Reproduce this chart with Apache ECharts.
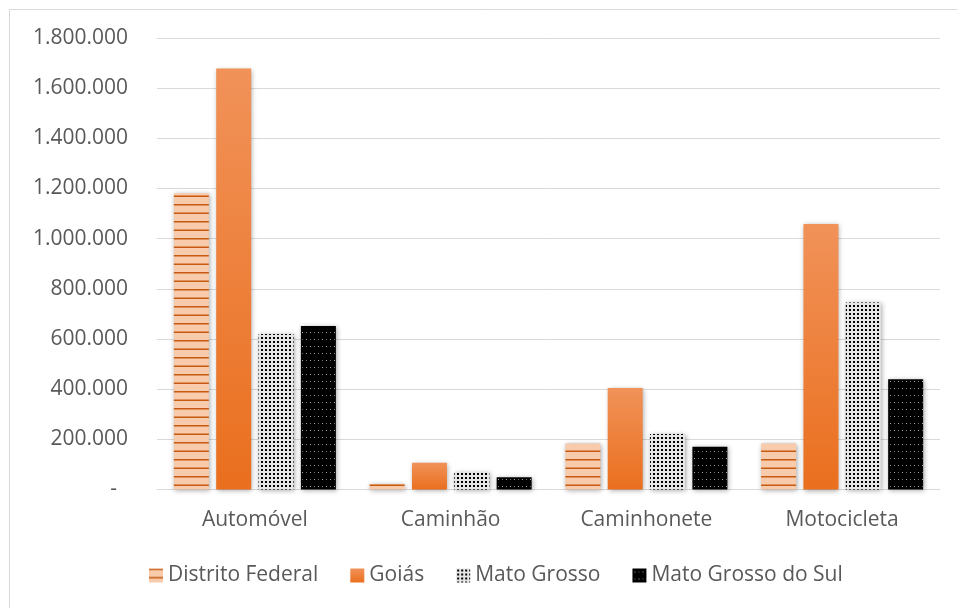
<!DOCTYPE html>
<html>
<head>
<meta charset="utf-8">
<script src="https://cdn.jsdelivr.net/npm/echarts@6/dist/echarts.min.js"></script>
<style>html,body{margin:0;padding:0;background:#fff}#c{width:957px;height:608px}</style>
</head>
<body>
<div id="c"></div>
<script>
const categories = ['Automóvel', 'Caminhão', 'Caminhonete', 'Motocicleta'];
const seriesNames = ['Distrito Federal', 'Goiás', 'Mato Grosso', 'Mato Grosso do Sul'];
const distritoFederal = [1181000, 22000, 182000, 182000];
const goias = [1678000, 107000, 405000, 1058000];
const matoGrosso = [620000, 69000, 221000, 746000];
const matoGrossoDoSul = [652000, 49000, 170000, 440000];
const yTicks = [0, 200000, 400000, 600000, 800000, 1000000, 1200000, 1400000, 1600000, 1800000];

function mk(w, h, draw) {
  const c = document.createElement('canvas');
  c.width = w; c.height = h;
  draw(c.getContext('2d'));
  return c;
}
const dfPat = mk(4, 17, g => {
  g.fillStyle = '#f8cbad'; g.fillRect(0, 0, 4, 17);
  g.fillStyle = '#c55a11'; g.fillRect(0, 0, 4, 1.5); g.fillRect(0, 8.5, 4, 1.5);
});
const mgPat = mk(4, 4, g => {
  g.fillStyle = '#e6e6e6'; g.fillRect(0, 0, 4, 4);
  g.fillStyle = '#000'; g.fillRect(1, 1, 2, 2);
});
const msPat = mk(8, 14, g => {
  g.fillStyle = '#000'; g.fillRect(0, 0, 8, 14);
  g.fillStyle = '#b0b0b0'; g.fillRect(2, 3, 1, 1); g.fillRect(6, 10, 1, 1);
  g.fillStyle = '#707070'; g.fillRect(6, 3, 1, 1); g.fillRect(2, 10, 1, 1);
});

const FONT = 'Open Sans';
const TXT = '#595959';
const shadow = { shadowBlur: 5, shadowColor: 'rgba(0,0,0,0.35)', shadowOffsetX: 1, shadowOffsetY: 1 };
const colors = [
  { image: dfPat, repeat: 'repeat' },
  { type: 'linear', x: 0, y: 0, x2: 0, y2: 1, colorStops: [{ offset: 0, color: '#f19259' }, { offset: 1, color: '#ea6f1e' }] },
  { image: mgPat, repeat: 'repeat' },
  { image: msPat, repeat: 'repeat' }
];
const data = [distritoFederal, goias, matoGrosso, matoGrossoDoSul];

function fmt(v) {
  if (v === 0) return '-  ';
  return String(v).replace(/\B(?=(\d{3})+(?!\d))/g, '.');
}

const chart = echarts.init(document.getElementById('c'), null, { renderer: 'canvas' });
chart.setOption({
  animation: false,
  backgroundColor: '#fff',
  graphic: [{ type: 'rect', shape: { x: 9.5, y: 9.5, width: 1200, height: 1200 }, style: { fill: 'none', stroke: '#d9d9d9', lineWidth: 1 }, silent: true }],
  grid: { left: 157, right: 17, top: 38, bottom: 118.5, containLabel: false },
  legend: {
    left: 144, top: 560, itemWidth: 14, itemHeight: 14, itemGap: 32,
    icon: 'rect',
    textStyle: { color: TXT, fontFamily: FONT, fontSize: 21, padding: [0, 0, 0, 0] },
    data: seriesNames
  },
  xAxis: {
    type: 'category', data: categories,
    axisLine: { lineStyle: { color: '#d9d9d9', width: 1 } },
    axisTick: { show: false },
    axisLabel: { color: TXT, fontFamily: FONT, fontSize: 21, margin: 20 }
  },
  yAxis: {
    type: 'value', min: 0, max: 1800000, interval: 200000,
    axisLine: { show: false }, axisTick: { show: false },
    splitLine: { lineStyle: { color: '#d9d9d9', width: 1 } },
    axisLabel: { color: TXT, fontFamily: FONT, fontSize: 21, margin: 29, formatter: fmt }
  },
  series: seriesNames.map((n, i) => ({
    name: n, type: 'bar', data: data[i], barWidth: 35, barGap: '21%',
    itemStyle: Object.assign({ color: colors[i] }, shadow)
  }))
});
</script>
</body>
</html>
